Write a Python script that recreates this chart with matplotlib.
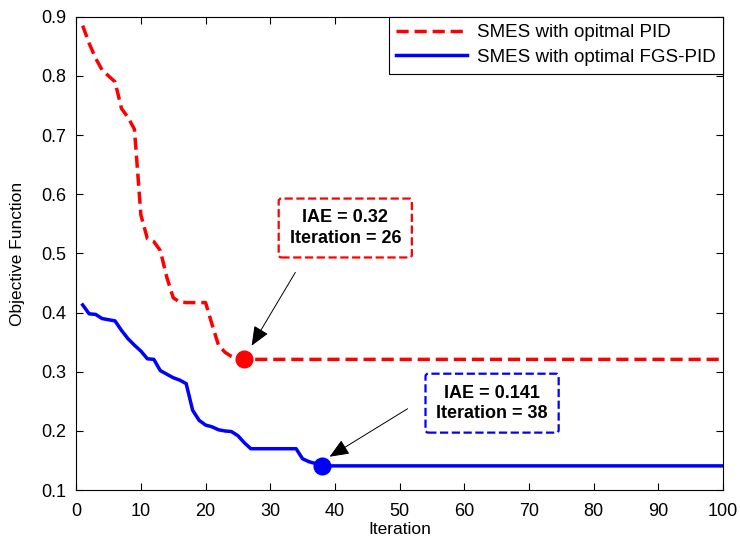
import matplotlib
matplotlib.use("Agg")
import matplotlib.pyplot as plt

plt.rcParams['font.family'] = ['Liberation Sans', 'DejaVu Sans']

# values (iteration, objective)
pid_iter = [1, 2, 3, 4, 5, 6, 7, 8, 9, 10, 11, 12, 13, 14, 15, 16, 17, 18,
            19, 20, 21, 22, 23, 24, 25, 26, 100]
pid_obj = [0.885, 0.855, 0.83, 0.81, 0.80, 0.79, 0.745, 0.73, 0.71, 0.565,
           0.525, 0.52, 0.505, 0.46, 0.425, 0.418, 0.417, 0.417, 0.417,
           0.417, 0.38, 0.345, 0.333, 0.326, 0.322, 0.321, 0.321]

fgs_iter = [1, 2, 3, 4, 5, 6, 7, 8, 9, 10, 11, 12, 13, 14, 15, 16, 17, 18,
            19, 20, 21, 22, 23, 24, 25, 26, 27, 34, 35, 36, 37, 38, 100]
fgs_obj = [0.413, 0.398, 0.397, 0.39, 0.388, 0.386, 0.37, 0.356, 0.345,
           0.335, 0.322, 0.321, 0.302, 0.296, 0.29, 0.286, 0.28, 0.235,
           0.218, 0.21, 0.207, 0.202, 0.2, 0.199, 0.192, 0.18, 0.17, 0.17,
           0.153, 0.148, 0.145, 0.141, 0.141]

best_pid = (26, 0.321)
best_fgs = (38, 0.141)

fig = plt.figure(figsize=(7.4, 5.41), dpi=100)
ax = fig.add_axes([0.103, 0.094, 0.874, 0.875])

ax.plot(pid_iter, pid_obj, color='red', lw=2.5, dashes=(3.5, 1.7),
        label='SMES with opitmal PID')
ax.plot(fgs_iter, fgs_obj, color='blue', lw=2.5,
        label='SMES with optimal FGS-PID')
ax.plot(*best_pid, 'o', color='red', ms=12)
ax.plot(*best_fgs, 'o', color='blue', ms=12)

# annotation boxes
box_kw = dict(ha='center', va='center', fontsize=13, fontweight='bold',
              linespacing=1.25)
ax.text(41.6, 0.543, 'IAE = 0.32\nIteration = 26', **box_kw,
        bbox=dict(boxstyle='round,pad=0.6,rounding_size=0.15', fc='white',
                  ec='red', lw=1.6, ls='--'))
ax.text(64.3, 0.247, 'IAE = 0.141\nIteration = 38', **box_kw,
        bbox=dict(boxstyle='round,pad=0.6,rounding_size=0.15', fc='white',
                  ec='blue', lw=1.6, ls='--'))
arrow = dict(arrowstyle='-|>,head_length=0.6,head_width=0.25', color='black',
             lw=0.7, mutation_scale=20)
ax.annotate('', xy=(26.9, 0.340), xytext=(34.1, 0.472), arrowprops=arrow)
ax.annotate('', xy=(38.8, 0.154), xytext=(51.6, 0.240), arrowprops=arrow)

ax.set_xlim(0, 100)
ax.set_ylim(0.1, 0.9)
ax.set_xticks(range(0, 101, 10))
ax.set_yticks([0.1, 0.2, 0.3, 0.4, 0.5, 0.6, 0.7, 0.8, 0.9])
ax.tick_params(direction='in', top=True, right=True, length=5, labelsize=13)
ax.tick_params(axis='x', pad=9)
ax.tick_params(axis='y', pad=7)
ax.set_xlabel('Iteration', fontsize=12.5, labelpad=2)
ax.set_ylabel('Objective Function', fontsize=12.5, labelpad=12)

leg = ax.legend(loc='upper right', fontsize=13.5, handlelength=3.8,
                borderaxespad=0, fancybox=False, edgecolor='black',
                framealpha=1, labelspacing=0.4, handletextpad=0.5)
leg.get_frame().set_linewidth(0.8)

fig.savefig('out.png', dpi=100)
